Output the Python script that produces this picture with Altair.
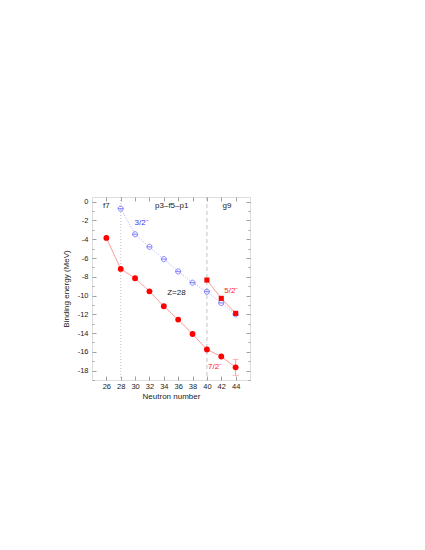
import altair as alt
import pandas as pd

# f7 ground states (filled red circles)
n_f7 = [26, 28, 30, 32, 34, 36, 38, 40, 42, 44]
be_f7 = [-3.86, -7.16, -8.16, -9.55, -11.14, -12.56, -14.10, -15.75, -16.50, -17.65]
err_f7 = [0, 0, 0, 0, 0, 0, 0, 0, 0, 0.85]

# g9 states (filled red squares)
n_g9 = [40, 42, 44]
be_g9 = [-8.35, -10.30, -11.90]

# p3-f5-p1 states (open blue circles)
n_p = [28, 30, 32, 34, 36, 38, 40, 42, 44]
be_p = [-0.74, -3.47, -4.81, -6.12, -7.43, -8.63, -9.59, -10.79, -12.00]

# shell boundaries
shell_n = [28, 40]

# annotations
ann_text = ["f7", "p3\u2013f5\u2013p1", "g9", "Z=28"]
ann_x = [26, 35.1, 42.8, 35.75]
ann_y = [-0.45, -0.45, -0.45, -9.73]
spin_text = ["3/2\u207b", "5/2\u207b", "7/2\u207b"]
spin_x = [30.9, 43.4, 41.15]
spin_y = [-2.23, -9.5, -17.65]
spin_col = ["#3333ff", "#ff2020", "#ff2020"]

x_major = [26, 28, 30, 32, 34, 36, 38, 40, 42, 44]
y_major = [0, -2, -4, -6, -8, -10, -12, -14, -16, -18]
y_minor = [-1, -3, -5, -7, -9, -11, -13, -15, -17, -19]

XD = [24, 46]
YD = [-19, 0.5]
FONT = "Liberation Sans"

f7 = pd.DataFrame({"n": n_f7, "be": be_f7, "err": err_f7})
f7["lo"] = f7["be"] - f7["err"]
f7["hi"] = f7["be"] + f7["err"]
err = f7[f7["err"] > 0]
g9 = pd.DataFrame({"n": n_g9, "be": be_g9})
pp = pd.DataFrame({"n": n_p, "be": be_p})
ann = pd.DataFrame({"t": ann_text, "x": ann_x, "y": ann_y})
spin = pd.DataFrame({"t": spin_text, "x": spin_x, "y": spin_y, "c": spin_col})
dummy = pd.DataFrame({"n": [24], "be": [0]})

xs = alt.Scale(domain=XD, nice=False, zero=False)
ys = alt.Scale(domain=YD, nice=False, zero=False)


def X(field="n", axis=None):
    return alt.X(f"{field}:Q", scale=xs, axis=axis)


def Y(field="be", axis=None):
    return alt.Y(f"{field}:Q", scale=ys, axis=axis)


lab_expr = "replace(datum.label, '\u2212', '-')"
common = dict(domain=False, grid=False, tickColor="#888888", tickWidth=0.8)

ax_main = alt.Chart(dummy).mark_point(opacity=0).encode(
    x=X(axis=alt.Axis(orient="bottom", values=x_major, offset=-4, tickSize=4,
                      labelPadding=2, labelFont=FONT, labelFontSize=7.5,
                      labelColor="#222222", title="Neutron number",
                      titleFont=FONT, titleFontSize=8, titleFontWeight="normal",
                      titlePadding=3, titleColor="#222222", **common)),
    y=Y(axis=alt.Axis(orient="left", values=y_major, offset=-4, tickSize=4,
                      labelPadding=4, labelFont=FONT, labelFontSize=7.5,
                      labelColor="#222222", labelExpr=lab_expr,
                      title="Binding energy (MeV)", titleFont=FONT,
                      titleFontSize=8, titleFontWeight="normal", titlePadding=7,
                      titleColor="#222222", **common)),
)
ax_minor = alt.Chart(dummy).mark_point(opacity=0).encode(
    x=X(axis=alt.Axis(orient="top", values=x_major, offset=-4, tickSize=4,
                      labels=False, title=None, **common)),
    y=Y(axis=alt.Axis(orient="left", values=y_minor, offset=-2, tickSize=2,
                      labels=False, title=None, **common)),
)
ax_right = alt.Chart(dummy).mark_point(opacity=0).encode(
    x=X(),
    y=Y(axis=alt.Axis(orient="right", values=y_major, offset=-4, tickSize=4,
                      labels=False, title=None, **common)),
)
ax_right_minor = alt.Chart(dummy).mark_point(opacity=0).encode(
    x=X(),
    y=Y(axis=alt.Axis(orient="right", values=y_minor, offset=-2, tickSize=2,
                      labels=False, title=None, **common)),
)

vdot = alt.Chart(pd.DataFrame({"n": [shell_n[0]]})).mark_rule(
    color="#aaaaaa", strokeWidth=0.7, strokeDash=[1, 2]).encode(x=X())
vdash = alt.Chart(pd.DataFrame({"n": [shell_n[1]]})).mark_rule(
    color="#aaaaaa", strokeWidth=0.7, strokeDash=[4, 3]).encode(x=X())

blue_line = alt.Chart(pp).mark_line(color="#9999ff", strokeWidth=0.8,
                                    strokeDash=[1, 1.5]).encode(x=X(), y=Y())
blue_pts = alt.Chart(pp).mark_point(
    shape="M-1,0A1,1,0,1,1,1,0A1,1,0,1,1,-1,0M-1,0L1,0",
    filled=False, size=26, color="#6666ff", strokeWidth=0.8, opacity=1,
).encode(x=X(), y=Y())

f7_line = alt.Chart(f7).mark_line(color="#ff8080", strokeWidth=0.8).encode(x=X(), y=Y())
f7_pts = alt.Chart(f7).mark_point(shape="circle", filled=True, size=34,
                                  color="#ff0000", opacity=1).encode(x=X(), y=Y())
err_rule = alt.Chart(err).mark_rule(color="#ff8080", strokeWidth=0.8).encode(
    x=X(), y=Y("lo"), y2="hi:Q")
err_cap_lo = alt.Chart(err).mark_tick(color="#ff8080", orient="horizontal",
                                      size=6, thickness=0.8).encode(x=X(), y=Y("lo"))
err_cap_hi = alt.Chart(err).mark_tick(color="#ff8080", orient="horizontal",
                                      size=6, thickness=0.8).encode(x=X(), y=Y("hi"))

g9_line = alt.Chart(g9).mark_line(color="#ff8080", strokeWidth=0.8).encode(x=X(), y=Y())
g9_pts = alt.Chart(g9).mark_point(shape="square", filled=True, size=26,
                                  color="#ff0000", opacity=1).encode(x=X(), y=Y())

ann_txt = alt.Chart(ann).mark_text(font=FONT, fontSize=8, color="#222222").encode(
    x=X("x"), y=Y("y"), text="t:N")
spin_txt = alt.Chart(spin).mark_text(font=FONT, fontSize=8).encode(
    x=X("x"), y=Y("y"), text="t:N", color=alt.Color("c:N", scale=None))

chart = alt.layer(
    ax_main, ax_minor, ax_right, ax_right_minor,
    vdot, vdash,
    blue_line, f7_line, g9_line,
    err_rule, err_cap_lo, err_cap_hi,
    blue_pts, f7_pts, g9_pts,
    ann_txt, spin_txt,
).resolve_axis(x="independent", y="independent").properties(
    width=158, height=183,
    autosize=alt.AutoSizeParams(type="none"),
    padding={"left": 84, "top": 189, "right": 120, "bottom": 150},
).configure_view(stroke="#aaaaaa", strokeWidth=1).configure(background="white")

chart.save("out.html", embed_options={"renderer": "svg", "actions": False})
